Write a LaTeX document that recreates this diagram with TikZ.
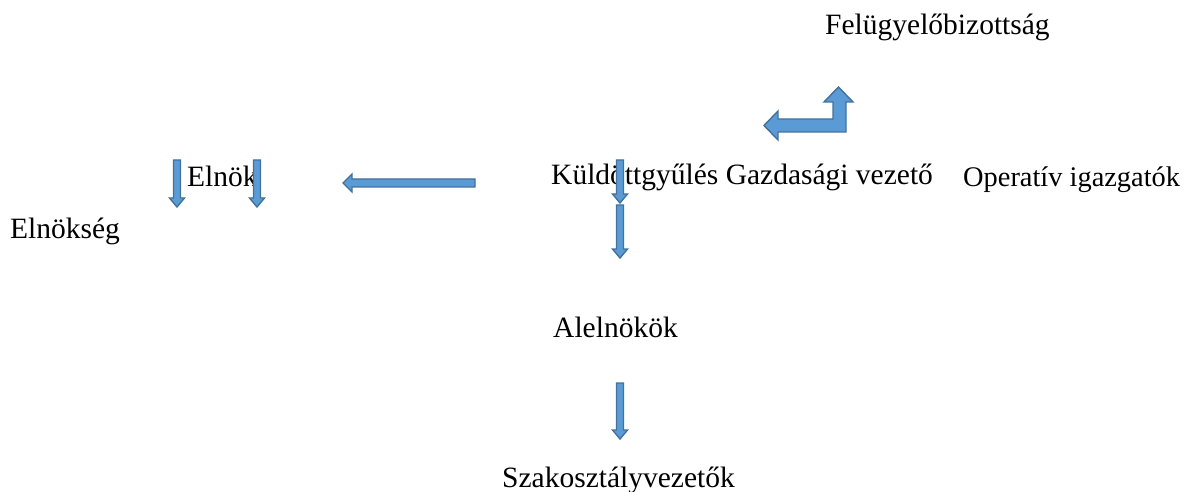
\documentclass[tikz,border=0pt]{standalone}
\usepackage{fontspec}
\setmainfont{Liberation Serif}
\definecolor{arrfill}{HTML}{5B9BD5}
\definecolor{arrline}{HTML}{41719C}
\tikzset{
  blockarrow/.style={fill=arrfill, draw=arrline, line width=1.4pt, line join=miter},
  lbl/.style={anchor=base west, inner sep=0pt, font=\fontsize{29.5}{35}\selectfont}
}
% vertical down block arrow: x, top y, tip y
\newcommand\vdownarrow[3]{%
  \path[blockarrow] (#1-3.5,#2) -- (#1+3.5,#2) -- (#1+3.5,#3-9) -- (#1+7.5,#3-9)
    -- (#1,#3) -- (#1-7.5,#3-9) -- (#1-3.5,#3-9) -- cycle;}
\begin{document}
\begin{tikzpicture}[x=1pt,y=-1pt]
\useasboundingbox (0,0) rectangle (1187,492);
\node[lbl] (felugy) at (825,35) {Felügyelőbizottság};
\node[lbl] (elnok) at (187,186) {Elnök};
\node[lbl] (kuld) at (551,185) {Küldöttgyűlés Gazdasági vezető};
\node[lbl, font=\fontsize{28.4}{34}\selectfont] (oper) at (963,187) {Operatív igazgatók};
\node[lbl] (elnokseg) at (10,238) {Elnökség};
\node[lbl] (alelnok) at (553,337) {Alelnökök};
\node[lbl] (szak) at (502,487) {Szakosztályvezetők};
% bent arrow
\path[blockarrow] (764,125.5) -- (778,111) -- (778,119) -- (833,119) -- (833,102)
  -- (824,102) -- (838.5,87) -- (853,102) -- (846,102) -- (846,132) -- (778,132)
  -- (778,140) -- cycle;
% long left arrow
\path[blockarrow] (343,183) -- (352,174) -- (352,179) -- (475,179) -- (475,187)
  -- (352,187) -- (352,192) -- cycle;
% small down arrows
\vdownarrow{177}{160}{207}
\vdownarrow{257}{160}{207}
\vdownarrow{620}{160}{203}
\vdownarrow{620}{205}{258}
\vdownarrow{620}{383}{439}
\end{tikzpicture}
\end{document}
